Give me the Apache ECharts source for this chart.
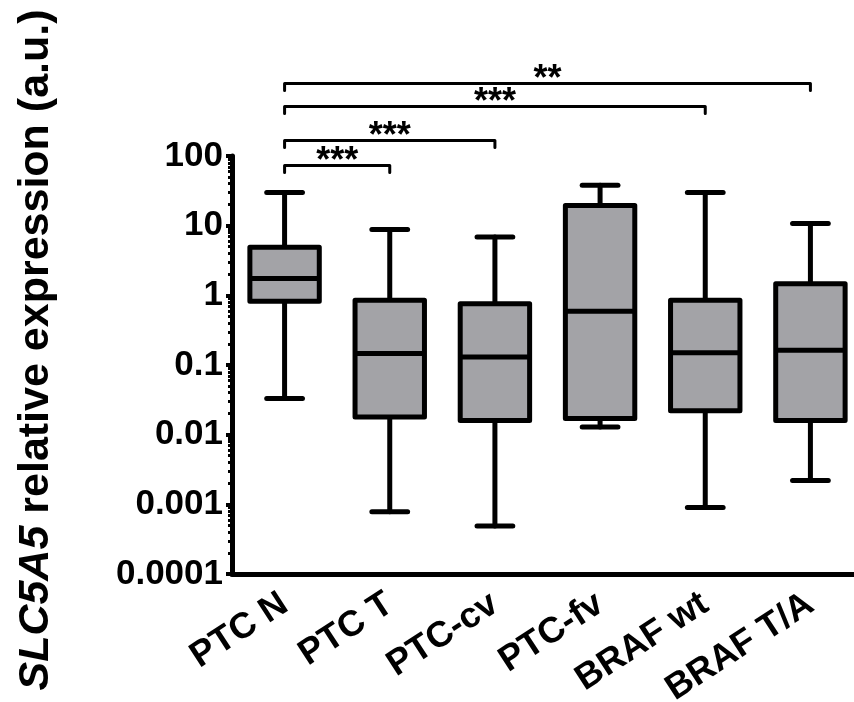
<!DOCTYPE html>
<html lang="en">
<head>
    <meta charset="UTF-8">
    <title>SLC5A5 relative expression</title>
    <script src="https://cdn.jsdelivr.net/npm/echarts@6/dist/echarts.min.js"></script>
</head>
<body style="margin:0;">
    <div id="main" style="width: 854px;height:702px;"></div>
    <script type="text/javascript">
        // groups on the x axis
        var categories = ['PTC N', 'PTC T', 'PTC-cv', 'PTC-fv', 'BRAF wt', 'BRAF T/A'];
        // box plot values (log scale)
        var lowWhisker = [0.033, 0.00078, 0.00049, 0.0129, 0.0009, 0.0022];
        var q1 = [0.82, 0.018, 0.016, 0.017, 0.022, 0.016];
        var median = [1.75, 0.146, 0.13, 0.59, 0.15, 0.163];
        var q3 = [4.9, 0.85, 0.76, 19.5, 0.85, 1.47];
        var highWhisker = [30, 8.8, 6.9, 38, 30, 10.7];
        // significance brackets: from group, to group, height, stars
        var bracketFrom = [0, 0, 0, 0];
        var bracketTo = [1, 2, 4, 5];
        var bracketLevel = [73, 167, 515, 1100];
        var bracketStars = ['***', '***', '***', '**'];
        // y tick labels, from 0.0001 up to 100
        var yTickLabels = ['0.0001', '0.001', '0.01', '0.1', '1', '10', '100'];

        var FONT = 'Liberation Sans, Arial, sans-serif';

        var boxData = categories.map(function (c, i) {
            return [i, lowWhisker[i], q1[i], median[i], q3[i], highWhisker[i]];
        });
        var bracketData = bracketFrom.map(function (f, i) {
            return [f, bracketLevel[i], bracketTo[i], bracketStars[i]];
        });

        function renderBox(params, api) {
            var x = api.value(0);
            var band = api.coord([1, 1])[0] - api.coord([0, 1])[0];
            var lo = api.coord([x, api.value(1)]);
            var b = api.coord([x, api.value(2)]);
            var m = api.coord([x, api.value(3)]);
            var t = api.coord([x, api.value(4)]);
            var hi = api.coord([x, api.value(5)]);
            var cx = lo[0];
            var hw = band * 0.33;
            var cw = band * 0.17;
            var line = {stroke: '#000', lineWidth: 5, lineCap: 'round'};
            return {
                type: 'group',
                children: [
                    {type: 'line', shape: {x1: cx, y1: hi[1], x2: cx, y2: t[1]}, style: line},
                    {type: 'line', shape: {x1: cx, y1: b[1], x2: cx, y2: lo[1]}, style: line},
                    {type: 'line', shape: {x1: cx - cw, y1: hi[1], x2: cx + cw, y2: hi[1]}, style: line},
                    {type: 'line', shape: {x1: cx - cw, y1: lo[1], x2: cx + cw, y2: lo[1]}, style: line},
                    {type: 'rect', shape: {x: cx - hw, y: t[1], width: hw * 2, height: b[1] - t[1]},
                        style: {fill: '#a3a3a7', stroke: '#000', lineWidth: 5, lineJoin: 'round'}},
                    {type: 'line', shape: {x1: cx - hw, y1: m[1], x2: cx + hw, y2: m[1]},
                        style: {stroke: '#000', lineWidth: 5}}
                ]
            };
        }

        function renderBracket(params, api) {
            var p1 = api.coord([api.value(0), api.value(1)]);
            var p2 = api.coord([api.value(2), api.value(1)]);
            var y = p1[1];
            return {
                type: 'group',
                children: [
                    {type: 'polyline', shape: {points: [[p1[0], y + 7], [p1[0], y], [p2[0], y], [p2[0], y + 7]]},
                        style: {stroke: '#000', fill: null, lineWidth: 3, lineJoin: 'round', lineCap: 'round'}},
                    {type: 'text', x: (p1[0] + p2[0]) / 2, y: y - 3,
                        style: {text: bracketStars[params.dataIndex], fill: '#000', font: 'bold 36px ' + FONT,
                            align: 'center', verticalAlign: 'middle'}}
                ]
            };
        }

        var myChart = echarts.init(document.getElementById('main'));

        var option = {
            backgroundColor: '#fff',
            animation: false,
            grid: {left: 232, top: 156, width: 631, height: 418, outerBoundsMode: 'none', containLabel: false},
            xAxis: {
                type: 'category',
                data: categories,
                axisLine: {lineStyle: {color: '#000', width: 5}},
                axisTick: {alignWithLabel: true, length: 6, lineStyle: {color: '#000', width: 4}},
                axisLabel: {
                    rotate: 33, margin: 27, color: '#000',
                    fontSize: 36, fontWeight: 'bold', fontFamily: FONT
                },
                splitLine: {show: false}
            },
            yAxis: {
                type: 'log',
                logBase: 10,
                min: 0.0001,
                max: 100,
                splitNumber: 6,
                name: '{i|SLC5A5}{n| relative expression (a.u.)}',
                nameLocation: 'middle',
                nameRotate: 90,
                nameGap: 174,
                nameTextStyle: {
                    padding: [0, 0, 0, 30],
                    rich: {
                        i: {fontSize: 43, fontWeight: 'bold', fontStyle: 'italic', fontFamily: FONT, color: '#000'},
                        n: {fontSize: 43, fontWeight: 'bold', fontFamily: FONT, color: '#000'}
                    }
                },
                axisLine: {show: true, lineStyle: {color: '#000', width: 5}},
                axisTick: {show: true, length: 6, lineStyle: {color: '#000', width: 4}},
                minorTick: {show: true, splitNumber: 9, length: 4, lineStyle: {color: '#000', width: 3}},
                axisLabel: {
                    margin: 9, color: '#000', fontSize: 35, fontWeight: 'bold', fontFamily: FONT,
                    formatter: function (v) {
                        return yTickLabels[Math.round(Math.log10(v)) + 4];
                    }
                },
                splitLine: {show: false},
                minorSplitLine: {show: false}
            },
            series: [
                {
                    type: 'custom',
                    name: 'box',
                    renderItem: renderBox,
                    clip: false,
                    data: boxData,
                    encode: {x: 0, y: [1, 2, 3, 4, 5]}
                },
                {
                    type: 'custom',
                    name: 'brackets',
                    renderItem: renderBracket,
                    clip: false,
                    data: bracketData,
                    encode: {x: [0, 2], y: 1}
                }
            ]
        };

        myChart.setOption(option);
    </script>
</body>
</html>
